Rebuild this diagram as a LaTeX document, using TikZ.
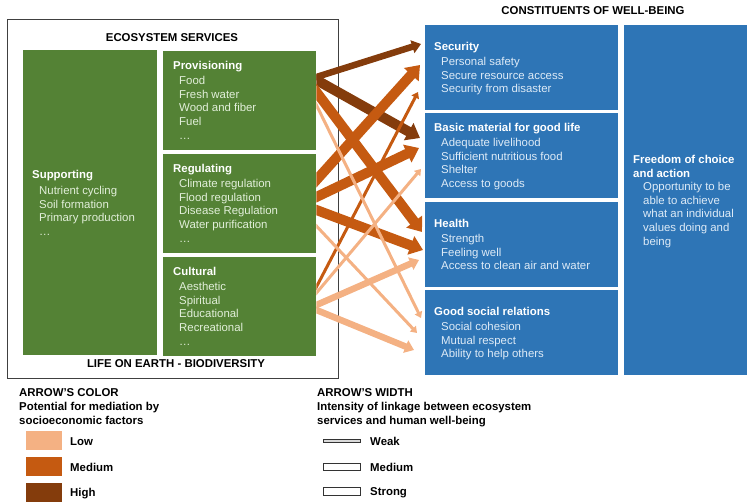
\documentclass[tikz,border=0pt]{standalone}
\usepackage{fontspec}
\setmainfont{Liberation Sans}
\usetikzlibrary{arrows.meta,calc}

\definecolor{svcgreen}{RGB}{84,130,53}
\definecolor{svcitem}{RGB}{226,239,218}
\definecolor{wbblue}{RGB}{46,117,182}
\definecolor{wbitem}{RGB}{222,235,247}
\definecolor{arrlow}{RGB}{244,177,131}
\definecolor{arrmed}{RGB}{197,90,17}
\definecolor{arrhigh}{RGB}{132,60,12}

\newcommand\mafont{\fontsize{11.4}{13.8}\selectfont}

\tikzset{
	svcbox/.style={fill=svcgreen, inner sep=0, anchor=north west},
	wbbox/.style={fill=wbblue, inner sep=0, anchor=north west},
	boxtitle/.style={anchor=base west, inner sep=0, text=white, font=\mafont\bfseries},
	svclist/.style={anchor=north west, inner sep=0, align=left, text=svcitem, font=\mafont},
	wblist/.style={anchor=north west, inner sep=0, align=left, text=wbitem, font=\mafont},
	heading/.style={anchor=base, inner sep=0, font=\mafont\bfseries},
	legtext/.style={anchor=base west, inner sep=0, font=\mafont\bfseries},
	% arrow colour = potential for mediation
	lowpot/.style={draw=arrlow},
	medpot/.style={draw=arrmed},
	highpot/.style={draw=arrhigh},
	% arrow width = intensity of linkage
	weaklink/.style={line width=3pt, shorten <=-10pt, -{Triangle[length=6pt,width=8pt]}},
	medlink/.style={line width=6.5pt, shorten <=-10pt, -{Triangle[length=9pt,width=13pt]}},
	stronglink/.style={line width=10pt, shorten <=-10pt, -{Triangle[length=13pt,width=19pt]}},
	widthkey/.style={draw=black!80, line width=0.9pt, fill=white}
}

\begin{document}
\begin{tikzpicture}[x=1pt, y=-1pt]
	\useasboundingbox (0,0) rectangle (747,502);

	% ecosystem services
	\node[draw=black!75, line width=1.2pt, inner sep=0, anchor=north west,
		minimum width=331pt, minimum height=359pt] (es) at (7,19) {};
	\node[heading] (estitle) at (172,42) {ECOSYSTEM SERVICES};
	\node[heading] (life) at (176,368) {LIFE ON EARTH - BIODIVERSITY};

	\node[svcbox, minimum width=134pt, minimum height=305pt] (supp) at (23,50) {};
	\node[svcbox, minimum width=153pt, minimum height=99pt] (prov) at (163,51) {};
	\node[svcbox, minimum width=153pt, minimum height=99pt] (reg) at (163,154) {};
	\node[svcbox, minimum width=153pt, minimum height=99pt] (cult) at (163,257) {};

	\node[boxtitle] (supptitle) at (32,179) {Supporting};
	\node[svclist] (supplist) at (39,185.8) {Nutrient cycling\\Soil formation\\Primary production\\…};
	\node[boxtitle] (provtitle) at (173,70) {Provisioning};
	\node[svclist] (provlist) at (179,75.8) {Food\\Fresh water\\Wood and fiber\\Fuel\\…};
	\node[boxtitle] (regtitle) at (173,173) {Regulating};
	\node[svclist] (reglist) at (179,178.8) {Climate regulation\\Flood regulation\\Disease Regulation\\Water purification\\…};
	\node[boxtitle] (culttitle) at (173,276) {Cultural};
	\node[svclist] (cultlist) at (179,281.8) {Aesthetic\\Spiritual\\Educational\\Recreational\\…};

	% constituents of well-being
	\node[heading] (wbtitle) at (593,15) {CONSTITUENTS OF WELL-BEING};
	\node[wbbox, minimum width=193pt, minimum height=85pt] (sec) at (425,25) {};
	\node[wbbox, minimum width=193pt, minimum height=85pt] (basic) at (425,113) {};
	\node[wbbox, minimum width=193pt, minimum height=85pt] (health) at (425,202) {};
	\node[wbbox, minimum width=193pt, minimum height=85pt] (social) at (425,290) {};
	\node[wbbox, minimum width=123pt, minimum height=350pt] (freedom) at (624,25) {};

	\node[boxtitle] (sectitle) at (434,51) {Security};
	\node[wblist] (seclist) at (441,56.8) {Personal safety\\Secure resource access\\Security from disaster};
	\node[boxtitle] (basictitle) at (434,132) {Basic material for good life};
	\node[wblist] (basiclist) at (441,137.8) {Adequate livelihood\\Sufficient nutritious food\\Shelter\\Access to goods};
	\node[boxtitle] (healthtitle) at (434,228) {Health};
	\node[wblist] (healthlist) at (441,233.8) {Strength\\Feeling well\\Access to clean air and water};
	\node[boxtitle] (socialtitle) at (434,316) {Good social relations};
	\node[wblist] (sociallist) at (441,321.8) {Social cohesion\\Mutual respect\\Ability to help others};
	\node[boxtitle, anchor=north west, align=left] (freetitle) at (633,154.8) {Freedom of choice\\and action};
	\node[wblist] (freelist) at (643,181.8) {Opportunity to be\\able to achieve\\what an individual\\values doing and\\being};

	% linkages, drawn over the frame but not over the service boxes
	\begin{scope}
		\clip (prov.north east |- 0,0) rectangle (747,502);
		\draw[highpot, medlink] ($(prov.north east)+(0,26)$) -- ($(sec.north west)+(-4,19)$);
		\draw[highpot, stronglink] ($(prov.north east)+(0,29)$) -- ($(basic.north west)+(-5,25)$);
		\draw[medpot, stronglink] ($(prov.north east)+(0,41)$) -- ($(health.north west)+(-3,30)$);
		\draw[medpot, stronglink] ($(reg.north east)+(0,26)$) -- ($(sec.north west)+(-5,40)$);
		\draw[medpot, stronglink] ($(reg.north east)+(0,43)$) -- ($(basic.north west)+(-6,35)$);
		\draw[medpot, stronglink] ($(reg.north east)+(0,56)$) -- ($(health.north west)+(-2,48)$);
		\draw[medpot, weaklink] ($(cult.north east)+(0,30)$) -- ($(sec.north west)+(-7,67)$);
		\draw[lowpot, weaklink] ($(prov.north east)+(0,54)$) -- ($(social.north west)+(-4,28)$);
		\draw[lowpot, weaklink] ($(reg.north east)+(0,72)$) -- ($(social.north west)+(-8,43)$);
		\draw[lowpot, weaklink] ($(cult.north east)+(0,36)$) -- ($(basic.north west)+(-4,56)$);
		\draw[lowpot, medlink] ($(cult.north east)+(0,48)$) -- ($(health.north west)+(-6,58)$);
		\draw[lowpot, medlink] ($(cult.north east)+(0,53)$) -- ($(social.north west)+(-11,60)$);
	\end{scope}

	% legend: colour
	\node[legtext] (colkey) at (19,396) {ARROW'S COLOR};
	\node[legtext, anchor=north west, align=left] (colsub) at (19,401.8) {Potential for mediation by\\socioeconomic factors};
	\fill[arrlow] (26,431) rectangle (62,450);
	\fill[arrmed] (26,457) rectangle (62,476);
	\fill[arrhigh] (26,483) rectangle (62,502);
	\node[legtext] (lowkey) at (70,445) {Low};
	\node[legtext] (medkey) at (70,471) {Medium};
	\node[legtext] (highkey) at (70,496) {High};

	% legend: width
	\node[legtext] (widkey) at (317,396) {ARROW'S WIDTH};
	\node[legtext, anchor=north west, align=left] (widsub) at (317,401.8) {Intensity of linkage between ecosystem\\services and human well-being};
	\draw[widthkey, fill=black!15] (323,439.5) rectangle (360,442.5);
	\draw[widthkey] (323,463) rectangle (360,470);
	\draw[widthkey] (323,487) rectangle (360,495);
	\node[legtext] (weakkey) at (370,445) {Weak};
	\node[legtext] (mediumkey) at (370,471) {Medium};
	\node[legtext] (strongkey) at (370,495) {Strong};
\end{tikzpicture}
\end{document}
